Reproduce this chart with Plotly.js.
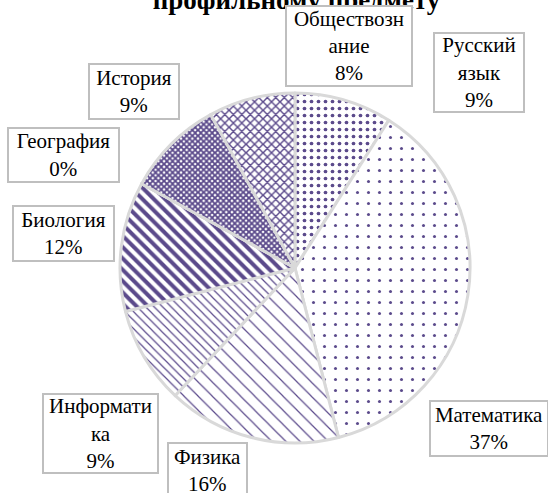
<!DOCTYPE html>
<html>
<head>
<meta charset="utf-8">
<script src="https://cdn.plot.ly/plotly-3.0.1.min.js"></script>
<style>html,body{margin:0;padding:0;background:#fff;}#chart{width:548px;height:493px;}</style>
</head>
<body>
<div id="chart"></div>
<script>
// Data (clockwise from 12 o'clock)
const subjects = ["Русский язык", "Математика", "Физика", "Информатика", "Биология", "География", "История", "Обществознание"];
const shares = [9, 37, 16, 9, 12, 0, 9, 8];
// Label texts as wrapped in the reference
const labelLines = [
  ["Русский", "язык"],
  ["Математика"],
  ["Физика"],
  ["Информати", "ка"],
  ["Биология"],
  ["География"],
  ["История"],
  ["Обществозн", "ание"]
];
const titleText = "профильному предмету";

// Styling / layout (positions in pixels of the 548x493 page)
const W = 548, H = 493;
const FONT = "Liberation Serif";
const purple = "#5b4a8b";
const patternShapes = [".", ".", "\\", "\\", "\\", "", "x", "x"];
const patternSizes = [7, 11, 10, 6, 8, 6, 4, 6];
const patternSolid = [0.22, 0.06, 0.12, 0.2, 0.5, 0.3, 0.7, 0.42];
const patternOpacity = [0.85, 0.8, 0.6, 0.7, 1, 1, 0.95, 0.8];
// label box centre x, centre y, width, height (px)
const boxes = [
  [479, 72.5, 92, 81],
  [489, 428.5, 120, 57],
  [207.5, 470.5, 81, 57],
  [100.5, 433.5, 117, 81],
  [63.5, 233.5, 103, 57],
  [63.5, 155, 113, 56],
  [134, 91.5, 92, 57],
  [349, 46, 128, 82]
];
const cx = 295, cy = 268, r = 175;

const trace = {
  type: "pie",
  labels: subjects,
  values: shares,
  sort: false,
  direction: "clockwise",
  rotation: 0,
  textinfo: "none",
  hoverinfo: "none",
  showlegend: false,
  domain: {x: [(cx - r) / W, (cx + r) / W], y: [(H - cy - r) / H, (H - cy + r) / H]},
  marker: {
    colors: subjects.map(() => "#ffffff"),
    line: {color: "#d9d9d9", width: 3},
    pattern: {
      shape: patternShapes,
      size: patternSizes,
      solidity: patternSolid,
      fgcolor: purple,
      fgopacity: patternOpacity,
      bgcolor: "#ffffff",
      fillmode: "replace"
    }
  }
};

const annotations = subjects.map((s, i) => {
  const b = boxes[i];
  const txt = labelLines[i].concat([shares[i] + "%"]).join("<br>");
  return {
    xref: "paper", yref: "paper",
    x: b[0] / W, y: 1 - b[1] / H,
    xanchor: "center", yanchor: "middle",
    text: txt, showarrow: false,
    font: {family: FONT, size: 21, color: "#000"},
    bgcolor: "#ffffff", bordercolor: "#bfbfbf", borderwidth: 2, borderpad: 0,
    width: b[2] - 4, height: b[3] - 4, align: "center", valign: "middle"
  };
});

const layout = {
  width: W, height: H,
  margin: {l: 0, r: 0, t: 0, b: 0},
  paper_bgcolor: "#ffffff",
  font: {family: FONT},
  title: {
    text: "<b>" + titleText + "</b>",
    font: {family: FONT, size: 27, color: "#000"},
    x: 296.5 / W, xanchor: "center",
    y: 1, yref: "container", yanchor: "middle"
  },
  annotations: annotations
};

Plotly.newPlot("chart", [trace], layout, {staticPlot: true, displayModeBar: false});
</script>
</body>
</html>
